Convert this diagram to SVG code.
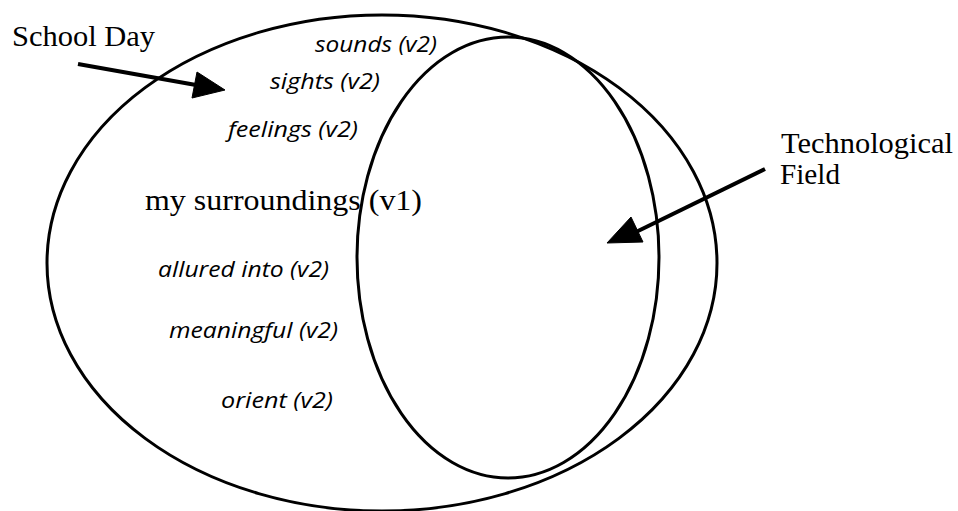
<svg xmlns="http://www.w3.org/2000/svg" width="958" height="511" viewBox="0 0 958 511">
<style>
.shape{fill:none;stroke:#000;stroke-width:3}
.arrow{fill:none;stroke:#000;stroke-width:4}
.head{fill:#000;stroke:#000;stroke-width:1;stroke-linejoin:round}
.lbl{font-family:"Liberation Serif","Times New Roman",serif;font-size:30px;fill:#000}
.it{font-family:"Open Sans","DejaVu Sans",sans-serif;font-style:italic;font-weight:500;font-size:21px;fill:#000}
</style>
<rect width="958" height="511" fill="#fff"/>
<g id="school-day">
<ellipse class="shape" cx="382" cy="263" rx="335" ry="248"/>
<text class="it" x="315" y="52" textLength="122" lengthAdjust="spacingAndGlyphs">sounds (v2)</text>
<text class="it" x="270" y="89" textLength="110" lengthAdjust="spacingAndGlyphs">sights (v2)</text>
<text class="it" x="228" y="137" textLength="130" lengthAdjust="spacingAndGlyphs">feelings (v2)</text>
<text class="lbl" x="145" y="210" textLength="277" lengthAdjust="spacingAndGlyphs">my surroundings (v1)</text>
<text class="it" x="158" y="277" textLength="171" lengthAdjust="spacingAndGlyphs">allured into (v2)</text>
<text class="it" x="169" y="338" textLength="169" lengthAdjust="spacingAndGlyphs">meaningful (v2)</text>
<text class="it" x="221" y="408" textLength="112" lengthAdjust="spacingAndGlyphs">orient (v2)</text>
</g>
<g id="technological-field">
<ellipse class="shape" cx="508" cy="257.5" rx="151" ry="220.5"/>
</g>
<g id="label-school-day">
<text class="lbl" x="12" y="46" textLength="143" lengthAdjust="spacingAndGlyphs">School Day</text>
</g>
<g id="label-technological-field">
<text class="lbl" x="781" y="153" textLength="172" lengthAdjust="spacingAndGlyphs">Technological</text>
<text class="lbl" x="780" y="184" textLength="60" lengthAdjust="spacingAndGlyphs">Field</text>
</g>
<g id="connectors">
<line class="arrow" x1="78" y1="64" x2="196" y2="85"/>
<polygon class="head" points="225,90 197,72 192,98"/>
<line class="arrow" x1="765" y1="169" x2="636" y2="232"/>
<polygon class="head" points="607,243 631,217 643,242"/>
</g>
</svg>
